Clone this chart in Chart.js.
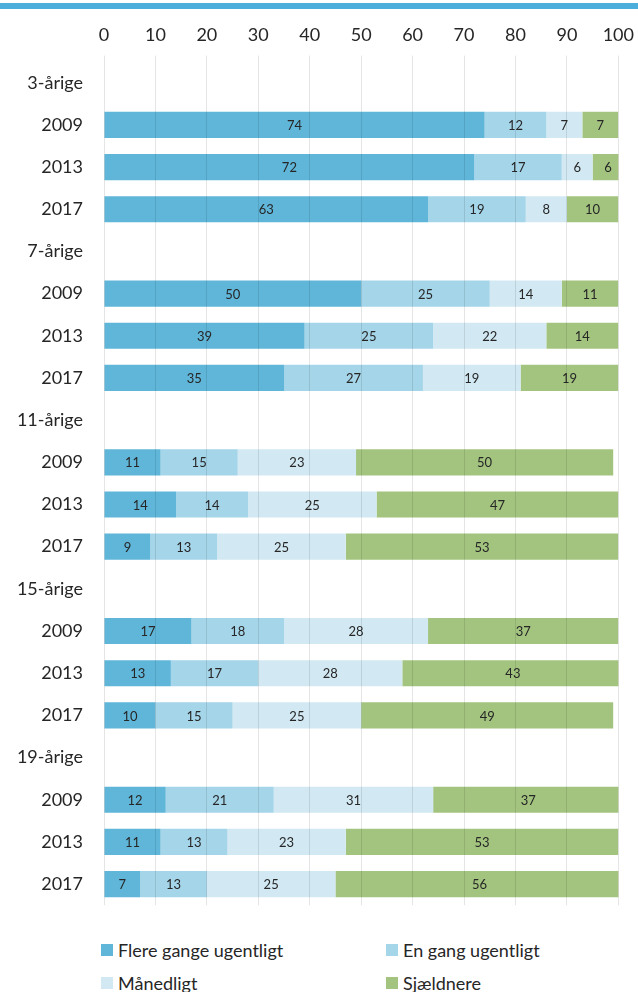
<!DOCTYPE html>
<html>
<head>
<meta charset="utf-8">
<script src="https://cdn.jsdelivr.net/npm/chart.js@4"></script>
<style>
  html, body { margin: 0; padding: 0; background: #fff; }
  body { width: 638px; height: 992px; position: relative; overflow: hidden; font-family: Lato, sans-serif; }
  #topline { position: absolute; left: 0; top: 3px; width: 638px; height: 6px; background: #4eaedb; }
  #wrap { position: absolute; left: 0; top: 0; width: 644px; height: 929px; }
  #legend { position: absolute; left: 101px; top: 939px; display: grid; grid-template-columns: 285px 200px; row-gap: 11px; font-size: 18px; color: #262626; }
  #legend div { display: flex; align-items: center; height: 22px; white-space: nowrap; }
  #legend span.box { display: inline-block; width: 12px; height: 12px; margin-right: 5px; }
</style>
</head>
<body>
<div id="topline"></div>
<div id="wrap"><canvas id="chart"></canvas></div>
<div id="legend"></div>
<script>
// Kategorier (aldersgrupper som overskrifter, derefter år)
const labels = ['3-årige', '2009', '2013', '2017', '7-årige', '2009', '2013', '2017',
  '11-årige', '2009', '2013', '2017', '15-årige', '2009', '2013', '2017',
  '19-årige', '2009', '2013', '2017'];

// Procentværdier pr. serie
const flereGange = [null, 74, 72, 63, null, 50, 39, 35, null, 11, 14, 9, null, 17, 13, 10, null, 12, 11, 7];
const enGang = [null, 12, 17, 19, null, 25, 25, 27, null, 15, 14, 13, null, 18, 17, 15, null, 21, 13, 13];
const maanedligt = [null, 7, 6, 8, null, 14, 22, 19, null, 23, 25, 25, null, 28, 28, 25, null, 31, 23, 25];
const sjaeldnere = [null, 7, 6, 10, null, 11, 14, 19, null, 50, 47, 53, null, 37, 43, 49, null, 37, 53, 56];

const xTicks = [0, 10, 20, 30, 40, 50, 60, 70, 80, 90, 100];

const series = [
  { label: 'Flere gange ugentligt', data: flereGange, color: '#5fb6d9' },
  { label: 'En gang ugentligt', data: enGang, color: '#a5d5e9' },
  { label: 'Månedligt', data: maanedligt, color: '#d2e9f3' },
  { label: 'Sjældnere', data: sjaeldnere, color: '#a3c47f' }
];

// Tal midt i hvert segment
const valueLabels = {
  id: 'valueLabels',
  afterDatasetsDraw(chart) {
    const ctx = chart.ctx;
    ctx.save();
    ctx.font = '13px Lato, sans-serif';
    ctx.fillStyle = '#262626';
    ctx.textAlign = 'center';
    ctx.textBaseline = 'middle';
    chart.data.datasets.forEach((ds, i) => {
      chart.getDatasetMeta(i).data.forEach((bar, j) => {
        const v = ds.data[j];
        if (v == null) return;
        const p = bar.getProps(['x', 'y', 'base'], true);
        ctx.fillText(v, (p.x + p.base) / 2, p.y + 1);
      });
    });
    ctx.restore();
  }
};

new Chart(document.getElementById('chart'), {
  type: 'bar',
  data: {
    labels: labels,
    datasets: series.map(s => ({
      label: s.label,
      data: s.data,
      backgroundColor: s.color,
      barPercentage: 0.62,
      categoryPercentage: 1
    }))
  },
  options: {
    indexAxis: 'y',
    responsive: true,
    maintainAspectRatio: false,
    animation: false,
    layout: { padding: { top: 14, right: 14, left: 0, bottom: 3 } },
    plugins: { legend: { display: false }, tooltip: { enabled: false } },
    scales: {
      x: {
        position: 'top',
        stacked: true,
        min: 0, max: 100,
        afterBuildTicks: axis => { axis.ticks = xTicks.map(v => ({ value: v })); },
        grid: { color: 'rgba(0,0,0,0.1)', tickLength: 6, z: 1 },
        border: { display: false },
        ticks: { font: { family: 'Lato', size: 18 }, color: '#262626', padding: 10 }
      },
      y: {
        stacked: true,
        grid: { display: false },
        border: { display: false },
        afterFit: axis => { axis.width = 104; },
        ticks: { font: { family: 'Lato', size: 18 }, color: '#262626', padding: 13 }
      }
    }
  },
  plugins: [valueLabels]
});

// Forklaring i to kolonner
const legend = document.getElementById('legend');
series.forEach(s => {
  const d = document.createElement('div');
  d.innerHTML = '<span class="box" style="background:' + s.color + '"></span>' + s.label;
  legend.appendChild(d);
});
</script>
</body>
</html>
